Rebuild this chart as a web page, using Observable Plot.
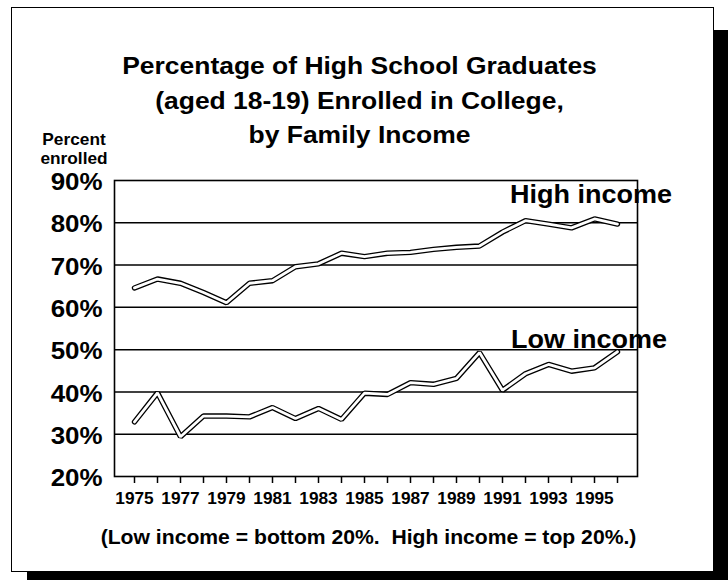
<!DOCTYPE html>
<html>
<head>
<meta charset="utf-8">
<script src="https://cdn.jsdelivr.net/npm/d3@7"></script>
<script src="https://cdn.jsdelivr.net/npm/@observablehq/plot@0.6"></script>
<style>
  html, body { margin: 0; padding: 0; background: #fff; }
  #page { position: relative; width: 728px; height: 580px; overflow: hidden; background: #fff; }
  .box { position: absolute; left: 11px; top: 7px; width: 701px; height: 563px; border: 1.5px solid #000; }
  .shR { position: absolute; left: 714px; top: 30px; width: 14px; height: 550px; background: #000; }
  .shB { position: absolute; left: 27px; top: 572px; width: 701px; height: 8px; background: #000; }
  #chart { position: absolute; left: 0; top: 0; }
  #chart svg text { white-space: pre; }
</style>
</head>
<body>
<div id="page">
  <div class="box"></div>
  <div class="shR"></div>
  <div class="shB"></div>
  <div id="chart"></div>
</div>
<script>
// ---- data ----
const years = [1975, 1976, 1977, 1978, 1979, 1980, 1981, 1982, 1983, 1984, 1985,
               1986, 1987, 1988, 1989, 1990, 1991, 1992, 1993, 1994, 1995, 1996];
const highIncome = [64.6, 66.7, 65.7, 63.5, 61.1, 65.7, 66.3, 69.6, 70.3, 72.8, 72.0,
                    72.8, 73.0, 73.7, 74.2, 74.5, 77.8, 80.5, 79.7, 78.8, 80.9, 79.7];
const lowIncome = [32.9, 39.8, 29.4, 34.3, 34.3, 34.1, 36.3, 33.7, 36.1, 33.5, 39.7,
                   39.4, 42.2, 41.8, 43.2, 49.3, 40.4, 44.3, 46.5, 44.9, 45.7, 49.5];
const yTicks = [20, 30, 40, 50, 60, 70, 80, 90];
const yearLabels = [1975, 1977, 1979, 1981, 1983, 1985, 1987, 1989, 1991, 1993, 1995];
const titleLines = ["Percentage of High School Graduates", "(aged 18-19) Enrolled in College,", "by Family Income"];
const yAxisTitle = ["Percent", "enrolled"];
const seriesNames = ["High income", "Low income"];
const footnote = "(Low income = bottom 20%.  High income = top 20%.)";

// ---- build ----
const rows = years.flatMap((yr, i) => [
  {year: yr, pct: highIncome[i], group: seriesNames[0]},
  {year: yr, pct: lowIncome[i], group: seriesNames[1]}
]);
const ends = [
  {year: years[years.length - 1], pct: highIncome[highIncome.length - 1], name: seriesNames[0]},
  {year: years[years.length - 1], pct: lowIncome[lowIncome.length - 1], name: seriesNames[1]}
];

const font = "'Liberation Sans', Arial, Helvetica, sans-serif";
const bold = {fontWeight: "bold", fill: "#000"};

const chart = Plot.plot({
  width: 728,
  height: 580,
  marginLeft: 114,
  marginRight: 91,
  marginTop: 180,
  marginBottom: 104,
  x: {domain: [1975, 1996], insetLeft: 20, insetRight: 20},
  y: {domain: [20, 90]},
  style: {fontFamily: font, background: "transparent", color: "#000", overflow: "visible"},
  marks: [
    Plot.ruleY(yTicks.slice(1, -1), {stroke: "#000", strokeWidth: 1.5}),
    Plot.frame({stroke: "#000", strokeWidth: 1.6}),
    Plot.axisY({ticks: yTicks, tickSize: 0, tickPadding: 12, tickFormat: d => d + "%",
                fontSize: 24, fontWeight: "bold", label: null, dy: 2}),
    Plot.axisX({ticks: years, tickSize: 7, tickFormat: () => "", label: null, strokeWidth: 1.5}),
    Plot.axisX({ticks: yearLabels, tickSize: 0, tickPadding: 16.5, tickFormat: d => String(d),
                fontSize: 16, fontWeight: "bold", label: null}),
    Plot.line(rows, {x: "year", y: "pct", z: "group", stroke: "#000", strokeWidth: 5.4, strokeLinejoin: "miter"}),
    Plot.line(rows, {x: "year", y: "pct", z: "group", stroke: "#fff", strokeWidth: 2.8, strokeLinejoin: "miter"}),
    Plot.text([ends[0]], {x: "year", y: "pct", text: "name", textAnchor: "end", lineAnchor: "bottom",
                          dx: 54.5, dy: -20.6, fontSize: 25, ...bold}),
    Plot.text([ends[1]], {x: "year", y: "pct", text: "name", textAnchor: "end", lineAnchor: "bottom",
                          dx: 49.5, dy: -4, fontSize: 25, ...bold}),
    ...titleLines.map((t, i) => Plot.text([t], {frameAnchor: "top", text: d => d, textAnchor: "middle",
                          lineAnchor: "bottom", dx: -16.5, dy: [-107, -72, -38][i], fontSize: 24.5, ...bold})),
    ...yAxisTitle.map((t, i) => Plot.text([t], {frameAnchor: "top-left", text: d => d, textAnchor: "middle",
                          lineAnchor: "bottom", dx: -40.5, dy: [-36, -16.7][i], fontSize: 16, ...bold})),
    Plot.text([footnote], {frameAnchor: "bottom", text: d => d, textAnchor: "middle", lineAnchor: "bottom",
                          dx: -7.5, dy: 67, fontSize: 19.6, ...bold})
  ]
});

// slight horizontal stretch of the lettering, as in the scanned original
const S = 1.08;
d3.select(chart).selectAll("text").each(function () {
  const x = this.getAttribute("x");
  let tx = 0;
  if (x !== null && x !== "" && !isNaN(+x)) { tx = +x; this.removeAttribute("x"); }
  const tr = this.getAttribute("transform") || "";
  this.setAttribute("transform", (tr + ` translate(${tx},0) scale(${S},1)`).trim());
});

document.getElementById("chart").appendChild(chart);
</script>
</body>
</html>
